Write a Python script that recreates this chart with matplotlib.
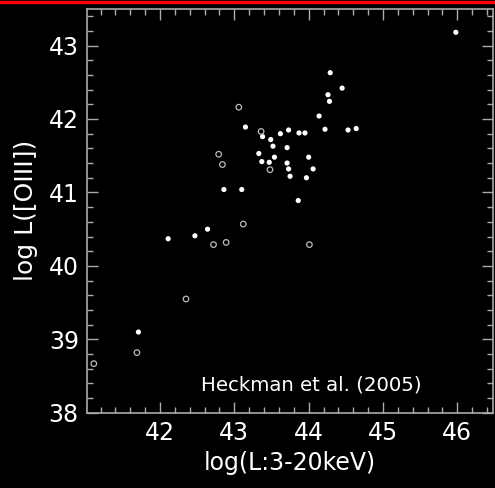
import matplotlib.pyplot as plt
from matplotlib.ticker import MultipleLocator
from matplotlib.lines import Line2D

# Filled points (log L X-ray, log L [OIII])
filled_x = [45.98, 44.29, 44.45, 44.26, 44.28, 44.14, 44.22, 44.53, 44.64,
            43.15, 43.38, 43.49, 43.52, 43.62, 43.73, 43.87, 43.95,
            43.33, 43.54, 43.37, 43.47, 43.71, 44.00, 43.71, 43.73, 44.06,
            43.75, 43.97, 43.86, 42.86, 43.10, 42.11, 42.47, 42.64, 41.71]
filled_y = [43.18, 42.63, 42.42, 42.33, 42.24, 42.04, 41.86, 41.85, 41.87,
            41.89, 41.76, 41.72, 41.63, 41.80, 41.85, 41.81, 41.81,
            41.53, 41.48, 41.42, 41.41, 41.61, 41.48, 41.40, 41.32, 41.32,
            41.22, 41.20, 40.89, 41.04, 41.04, 40.37, 40.41, 40.50, 39.10]

# Open points
open_x = [43.06, 43.36, 42.79, 42.84, 43.48, 43.12, 42.72, 42.89, 42.35,
          44.01, 41.69, 41.11]
open_y = [42.16, 41.83, 41.52, 41.38, 41.31, 40.57, 40.29, 40.32, 39.55,
          40.29, 38.82, 38.67]

fig = plt.figure(figsize=(4.95, 4.88), dpi=100, facecolor="black")
ax = fig.add_axes([0.176, 0.154, 0.820, 0.828], facecolor="black")

ax.scatter(filled_x, filled_y, s=14, color="white", edgecolors="none", zorder=3)
ax.scatter(open_x, open_y, s=16, facecolors="none", edgecolors="#bbbbbb",
           linewidths=0.9, zorder=3)

ax.set_xlim(41.02, 46.48)
ax.set_ylim(38, 43.5)
ax.xaxis.set_major_locator(MultipleLocator(1))
ax.xaxis.set_minor_locator(MultipleLocator(0.2))
ax.yaxis.set_major_locator(MultipleLocator(1))
ax.yaxis.set_minor_locator(MultipleLocator(0.2))

for s in ax.spines.values():
    s.set_color("#aaaaaa")
    s.set_linewidth(1.2)
ax.tick_params(which="both", direction="in", top=True, right=True,
               colors="#aaaaaa", labelcolor="white", labelsize=17)
ax.tick_params(which="major", length=8, width=1, pad=6)
ax.tick_params(which="minor", length=4, width=1)

ax.set_xlabel("log(L:3-20keV)", color="white", fontsize=17, labelpad=4)
ax.set_ylabel("log L([OIII])", color="white", fontsize=18, labelpad=8)

ax.text(0.823, 0.045, "Heckman et al. (2005)", transform=ax.transAxes,
        color="white", fontsize=14.2, ha="right", va="bottom")

# red line along the top edge
fig.add_artist(Line2D([0, 1], [0.995, 0.995], transform=fig.transFigure,
                      color="red", linewidth=2.5))

fig.savefig("out.png", dpi=100, facecolor="black")
